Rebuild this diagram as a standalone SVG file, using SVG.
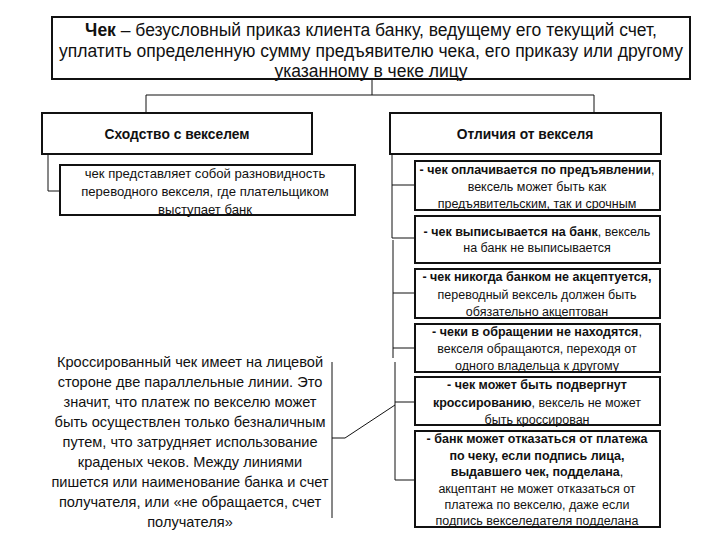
<svg xmlns="http://www.w3.org/2000/svg" width="720" height="540" viewBox="0 0 720 540">
<style>
text{font-family:"Liberation Sans",Arial,sans-serif;fill:#111;text-anchor:middle}
.b{font-weight:bold}
.box{fill:#fff;stroke:#111;stroke-width:2}
.con{fill:none;stroke:#111;stroke-width:1}
.t16{font-size:17.5px}
.t13{font-size:13.8px}
.t12{font-size:12.5px}
.t12l{font-size:13.1px}
.t14{font-size:14.6px}
</style>
<rect width="720" height="540" fill="#fff"/>
<g id="connectors" class="con">
<path d="M372,79 V95 M146,95 H594 M146,95 V113 M594,95 V113"/>
<path d="M48,154 V191 H60"/>
<path d="M392,154 V238 H415 M392,185 H415 M393,240 V358 M393,293 H415 M393,348 H415 M395,362 V480 H415 M395,402 H415"/>
<path d="M332,362 V518 M332,438 H345 L395,405"/>
</g>
<g id="top">
<rect class="box" x="52" y="17" width="638" height="62"/>
<text class="t16" x="371" y="36"><tspan class="b">Чек</tspan> – безусловный приказ клиента банку, ведущему его текущий счет,</text>
<text class="t16" x="371" y="57">уплатить определенную сумму предъявителю чека, его приказу или другому</text>
<text class="t16" x="371" y="77">указанному в чеке лицу</text>
</g>
<g id="similar">
<rect class="box" x="42" y="113" width="270" height="41"/>
<text class="t13 b" x="177" y="139">Сходство с векселем</text>
</g>
<g id="similar1">
<rect class="box" x="60" y="165" width="295" height="50"/>
<text class="t12l" x="205" y="178">чек представляет собой разновидность</text>
<text class="t12l" x="205" y="196">переводного векселя, где плательщиком</text>
<text class="t12l" x="205" y="214">выступает банк</text>
</g>
<g id="crossed">
<text class="t14" x="190" y="367">Кроссированный чек имеет на лицевой</text>
<text class="t14" x="190" y="387">стороне две параллельные линии. Это</text>
<text class="t14" x="190" y="407">значит, что платеж по векселю может</text>
<text class="t14" x="190" y="427">быть осуществлен только безналичным</text>
<text class="t14" x="190" y="447">путем, что затрудняет использование</text>
<text class="t14" x="190" y="467">краденых чеков. Между линиями</text>
<text class="t14" x="190" y="487">пишется или наименование банка и счет</text>
<text class="t14" x="190" y="507">получателя, или «не обращается, счет</text>
<text class="t14" x="190" y="527">получателя»</text>
</g>
<g id="diff">
<rect class="box" x="390" y="113" width="271" height="41"/>
<text class="t13 b" x="525" y="139">Отличия от векселя</text>
</g>
<g id="diff1">
<rect class="box" x="415" y="161" width="245" height="49"/>
<text class="t12" x="537" y="174"><tspan class="b">- чек оплачивается по предъявлении</tspan>,</text>
<text class="t12" x="537" y="191">вексель может быть как</text>
<text class="t12" x="537" y="208">предъявительским, так и срочным</text>
</g>
<g id="diff2">
<rect class="box" x="415" y="216" width="245" height="47"/>
<text class="t12" x="537" y="236"><tspan class="b">- чек выписывается на банк</tspan>, вексель</text>
<text class="t12" x="537" y="252">на банк не выписывается</text>
</g>
<g id="diff3">
<rect class="box" x="415" y="269" width="245" height="49"/>
<text class="t12 b" x="537" y="281">- чек никогда банком не акцептуется,</text>
<text class="t12" x="537" y="299">переводный вексель должен быть</text>
<text class="t12" x="537" y="316">обязательно акцептован</text>
</g>
<g id="diff4">
<rect class="box" x="415" y="324" width="245" height="48"/>
<text class="t12" x="537" y="336"><tspan class="b">- чеки в обращении не находятся</tspan>,</text>
<text class="t12" x="537" y="353">векселя обращаются, переходя от</text>
<text class="t12" x="537" y="370">одного владельца к другому</text>
</g>
<g id="diff5">
<rect class="box" x="415" y="377" width="245" height="48"/>
<text class="t12 b" x="537" y="389">- чек может быть подвергнут</text>
<text class="t12" x="537" y="407"><tspan class="b">кроссированию</tspan>, вексель не может</text>
<text class="t12" x="537" y="424">быть кроссирован</text>
</g>
<g id="diff6">
<rect class="box" x="415" y="431" width="245" height="96"/>
<text class="t12 b" x="537" y="443">- банк может отказаться от платежа</text>
<text class="t12 b" x="537" y="460">по чеку, если подпись лица,</text>
<text class="t12" x="537" y="476"><tspan class="b">выдавшего чек, подделана</tspan>,</text>
<text class="t12" x="537" y="493">акцептант не может отказаться от</text>
<text class="t12" x="537" y="509">платежа по векселю, даже если</text>
<text class="t12" x="537" y="525">подпись векселедателя подделана</text>
</g>
</svg>
